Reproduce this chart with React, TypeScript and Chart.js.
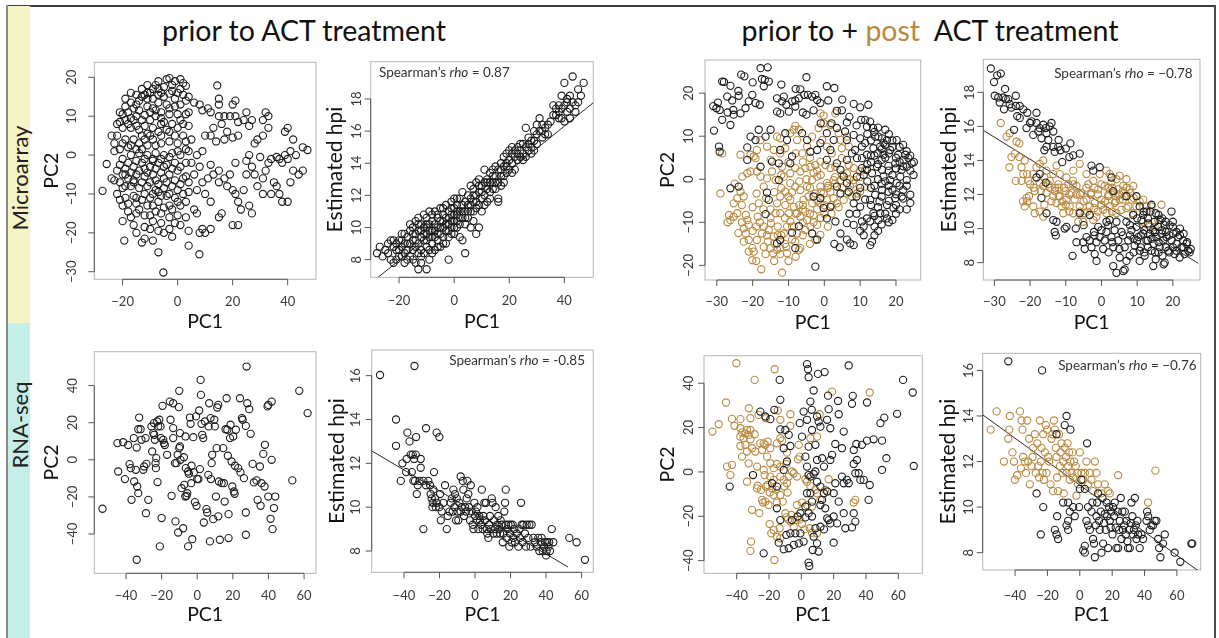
import React, { useEffect, useRef } from 'react';
import { Chart, registerables } from 'chart.js';
Chart.register(...registerables);

type Pt = [number, number];

// ---------- DATA ----------
// Microarray, PCA (prior to ACT)
const maPcPrior: Pt[] = [
[-4,19.5],[-3,19.8],[-1,19],[1,19.5],[2,18.5],[3,17.8],[-2,18],[-8,18],[-9,17],[-10,16],[-12,15.5],[-13,15],[-14,14],[-19,14.5],[-6,16],[-5,15],[-3,15.8],[0,16],[2,15.5],[1,13],[-1,12.5],[-4,13],[-7,13.5],[-9,12],[-11,12.5],[-14,11.5],[-16,12],[-18,11],[-21,11],[-20,10.5],[-17,9.5],[-15,10],[-12,10.3],[-10,9],[-8,10],[-6,11],[-3,10.5],[0,10.5],[3,10.5],[4,11],[1,9],[-2,8],[-5,8.5],[-9,7],[-12,7.5],[-14,6.5],[-17,7],[-20,7],[-22,5],[-24,5],[-19,4],[-16,4],[-13,5],[-10,5],[-7,6],[-4,6.5],[-1,5],[2,5],[5,4],[3,3.5],[0,3],[-3,3.5],[-6,3],[-8,2.5],[-11,2.5],[-14,3],[-18,2],[-21,1.5],[-23,1],[-20,-1],[-17,0],[-14,0.5],[-11,0],[-8,0.5],[-5,0],[-2,0.5],[1,0],[4,1],[-1,-2],[-4,-2.5],[-7,-2],[-10,-3],[-13,-2],[-16,-3],[-19,-3.5],[-22,-4],[-25.8,-2.3],[-27.3,-9.2],[-24,-6],[-21,-7],[-18,-6],[-15,-5],[-12,-5.5],[-9,-5],[-6,-4.5],[-3,-5],[0,-4],[3,-5.5],[4,-7],[1,-7.5],[-2,-8],[-5,-8.5],[-8,-9],[-11,-8],[-14,-8.5],[-17,-8],[-20,-8.5],[-22,-10],[-19,-11],[-16,-10.5],[-13,-11.5],[-10,-11],[-7,-12],[-4,-10.5],[-1,-11],[2,-10],[4,-9.5],[1,-13],[-2,-14],[-5,-13.5],[-8,-14.5],[-11,-13],[-14,-14],[-17,-16],[-20,-17],[-16,-18],[-12,-18.5],[-9,-17],[-6,-17.5],[-3,-16],[0,-15.5],[-1,-17.5],[4,-19.5],[-5,-20],[-9,-22],[-12,-21.5],[-13,-22.5],[-19.4,-22],[-2,-21],[4,-23.3],[-7,-25],[-5.2,-30.2],[7.9,-25.5],
[-15,13],[-11,14.5],[-7,15.5],[-18,8],[-15,7.5],[-11,5.5],[-6,8],[-13,1.5],[-9,-1],[-19,-5],[-16,-6.5],[-12,-3.5],[-8,-6.5],[-5,-6],[-20,-13],[-15,-12.5],[-10,-15.5],[-7,-9.5],
[-21,8.5],[-19,12.5],[-17,13.5],[-15,15.5],[-13,17],[-11,16],[-9,14.5],[-7,17],[-5,17.5],[-2,16.5],[1,17],[3,14],[-1,14.5],[-3,12],[-6,9.5],[-8,11.5],[-10,11],[-13,9],[-16,9],[-19,9],[-22,8],[-23,3],[-20,3],[-17,2.5],[-15,1.5],[-12,4],[-9,4],[-6,5],[-3,6],[0,7],[2,8],[4,7.5],[3,1.5],[0,1],[-3,-0.5],[-6,-1],[-9,-1.5],[-12,-1],[-15,-1.5],[-18,-2],[-21,-2.5],[-23,-6.5],[-20,-5],[-17,-4.5],[-14,-4],[-11,-4.5],[-8,-3.5],[-5,-3],[-2,-3.5],[1,-3],[3,-2],[2,-6],[-1,-6.5],[-4,-7],[-7,-7.5],[-10,-7],[-13,-7],[-16,-7],[-19,-8],[-21,-11.5],[-18,-12.5],[-15,-11],[-12,-10],[-9,-10],[-6,-10.5],[-3,-10],[0,-9],[3,-12],[0,-12],[-3,-13],[-6,-15],[-9,-13],[-12,-15.5],[-15,-15],[-18,-14.5],[-10,-19],[-7,-19.5],[-3,-19],[1,-18],[3,-16],[-17,16],[-7,19],[-11,18],[4,15],[-15,-20],
[6,13.5],[8,13],[9,11.5],[11,12],[12,11],[14.4,17.9],[15,14.5],[15,13],[15,10],[17,10],[16,8],[19,10],[20,13],[21,14],[21,10],[22,8.5],[24,9],[25,11],[26,7.5],[27,9],[22,5],[20,4.5],[18,6],[17,4],[13,7],[12,5],[10,5],[14,3.5],[9,1],[7,0],[8,-3],[12,-2.5],[13,-5],[15,-4],[17,-6],[15,-7],[18,-8],[19,-5],[21,-2],[20,-9],[21,-10],[22,-12],[24,-9],[25,-5],[25,-1.5],[26,0],[27,-3],[28,-5],[29,-8],[30,-0.5],[31,-6],[32,-4],[33,-2],[31,5],[31,9],[32,11],[33,10],[33,7],[29,4],[28,3],[34,-1],[36,-0.5],[37,-1],[38,-2],[39,0],[40,-1],[41,1],[40,7],[39,6],[42,-4],[43,0],[44,-5],[45.5,-4],[47.2,1.3],[45.5,2],[42,4],[36,-8],[37,-10],[38,-12],[40,-12],[41,-7],[34,-10],[35,-7],[31,-10],[26,-13],[27,-15],[23,-14],[22,-18],[20,-18],[15,-16],[16,-15],[12,-12],[10,-10],[7,-15],[9,-19],[10,-20],[8,-20],[12,-19],[6,-14],[7,-9],[9,-7],[11,-6],[6,-5],[5,-2]
];

// Microarray, estimated hpi (prior to ACT)
const maHpiPrior: Pt[] = [
[-28,8.4],[-26,8.2],[-25,8.6],[-24,8.4],[-23,9.2],[-22,8.8],[-22,9.2],[-21,8.0],[-21,8.6],[-20,9.2],[-20,8.2],[-19,9.6],[-19,8.8],[-18,9.0],[-18,8.4],[-18,7.8],[-17,9.4],[-17,8.6],[-16,9.8],[-16,9.0],[-16,8.2],[-15,10.0],[-15,9.2],[-15,8.6],[-14,10.4],[-14,9.6],[-14,8.8],[-14,7.8],[-13,9.8],[-13,9.0],[-13,8.4],[-13,7.4],[-12,10.2],[-12,9.4],[-12,8.6],[-11,10.8],[-11,10.0],[-11,9.2],[-11,8.4],[-10,10.6],[-10,9.6],[-10,8.8],[-10,7.4],[-9,11.0],[-9,10.2],[-9,9.4],[-9,8.6],[-8,10.4],[-8,9.8],[-8,9.0],[-7,11.0],[-7,10.2],[-7,9.4],[-7,8.6],[-6,10.6],[-6,10.0],[-6,9.2],[-5,11.2],[-5,10.4],[-5,9.6],[-5,8.8],[-4,10.8],[-4,10.0],[-4,9.4],[-3,11.4],[-3,10.6],[-3,9.8],[-3,9.0],[-2,11.0],[-2,10.2],[-2,9.4],[-2,8.0],[-1,11.6],[-1,10.8],[-1,10.0],[-1,9.6],[0,11.8],[0,11.2],[0,10.4],[0,9.6],[1,11.4],[1,10.8],[1,10.0],[2,11.8],[2,11.0],[2,10.2],[2,9.4],[3,12.2],[3,11.4],[3,10.6],[3,9.2],[4,11.0],[4,10.2],[4,8.4],[5,12.0],[5,11.4],[5,10.6],[6,12.6],[6,11.8],[6,11.0],[6,10.0],[7,12.4],[7,11.6],[7,10.4],[8,12.8],[8,12.0],[8,11.2],[8,9.6],[9,13.0],[9,12.2],[9,11.4],[9,10.0],[10,12.6],[10,11.8],[10,11.0],[11,13.6],[11,12.8],[11,12.0],[12,13.0],[12,12.4],[12,11.6],[13,13.4],[13,12.8],[13,12.2],[14,13.6],[14,12.8],[15,13.8],[15,13.2],[15,12.4],[16,13.6],[16,12.8],[16,11.8],[16,11.6],[17,14.0],[17,13.2],[18,14.4],[18,13.8],[18,13.2],[19,14.6],[19,14.0],[19,13.4],[20,14.8],[20,14.2],[20,13.6],[21,14.6],[21,14.0],[22,14.8],[22,14.4],[22,13.6],[23,15.0],[23,14.2],[24,14.8],[24,14.4],[25,15.2],[25,14.6],[26,16.2],[26,15.0],[26,14.4],[27,15.6],[27,14.8],[28,15.0],[28,14.6],[29,15.4],[30,15.8],[30,15.2],[31,16.8],[31,16.0],[32,16.4],[32,15.6],[33,16.2],[33,15.8],[34,16.4],[36,17.6],[37,17.0],[37,17.4],[38,17.6],[38,17.2],[39,18.2],[39,17.4],[40,19.0],[40,17.6],[40,16.6],[41,17.2],[41,17.8],[42,17.4],[42,16.8],[43,19.4],[43,17.8],[44,17.6],[45,18.6],[45,17.8],[47,19.0],
[-21,9.0],[-19,9.2],[-17,9.0],[-15,9.6],[-13,10.2],[-12,8.2],[-10,10.2],[-8,9.4],[-6,9.6],[-4,10.4],[-2,10.6],[0,10.8],[1,11.0],[-1,11.2],
[-27,8.8],[-24,9.0],[-23,8.0],[-22,7.8],[-20,8.6],[-19,8.2],[-18,9.6],[-17,8.0],[-16,10.2],[-15,8.0],[-14,9.2],[-13,10.6],[-12,9.8],[-12,7.8],[-11,9.6],[-10,10.0],[-10,9.2],[-9,9.8],[-9,8.0],[-8,10.8],[-8,8.4],[-7,9.8],[-6,10.8],[-6,8.8],[-5,10.0],[-4,9.0],[-4,11.2],[-3,10.2],[-2,9.8],[-1,10.4],[0,10.0],[1,10.4],[1,11.8],[2,10.6],[3,11.0],[4,11.6],[4,10.6],[5,11.0],[6,11.4],[7,11.0],[7,12.0],[8,11.6],[9,12.6],[10,12.2],[11,11.4],[12,12.8],[13,11.8],[14,12.4],[14,13.2],[15,12.8],[17,13.6],[17,12.6],[18,12.8],[19,13.8],[21,13.4],[21,15.0],[23,14.6],[24,15.2],[25,14.2],[27,15.2],[28,15.4],[29,14.8],[29,16.0],[30,16.4],[32,16.0],[34,15.8],[35,16.6],[36,17.0],[38,16.8],[39,16.8],[41,18.0],[42,18.2],[44,17.2],[46,18.2]
];

// Microarray, PCA (prior = black, post = brown)
const maPcPrior2: Pt[] = [
[-30.8,11.3],[-28.5,22.7],[-28,22.6],[-29.7,17.8],[-30.1,16.5],[-29.2,16.1],[-28.5,13.8],[-27.1,19.2],[-26.2,21.7],[-25.7,18.3],[-25.4,16.1],[-25.3,15],[-26.2,12.6],[-23.9,19.4],[-23.4,15.3],[-23.2,24.3],[-22.3,23.9],[-22,16.5],[-21.1,18.1],[-20.1,19.6],[-19.2,17.7],[-18,17.3],[-17.8,25.8],[-17.4,23.3],[-16.9,21.6],[-16.6,23.1],[-15.8,26],[-15.5,22.7],[-15,11.5],[-16.4,9.9],[-18.3,11.5],[-19.2,9.1],[-20.6,9.9],[-21.5,7.4],[-29.4,7.6],[-29.2,6.4],[-21.5,4.5],[-17.8,2.9],[-26.2,-2.1],[-23.9,-1.7],[-16,-3.1],[-15.5,-4.8],[-16.4,-8.1],[-14.6,4.1],[-12.7,3.7],[-12.3,6.8],[-12.7,-0.2],[-10.9,10.7],[-10.4,9.1],[-9.5,3.7],[-9,5.3],[-13.2,15.7],[-12.3,15.3],[-13.2,18.8],[-11.8,18.1],[-11.3,19.2],[-10.6,17.3],[-9.9,15.7],[-9,18.1],[-8.1,18.3],[-7.1,18.8],[-8.1,16.9],[-6.7,20.9],[-5.6,19.6],[-5,23.7],[-4.6,19.6],[-3.4,19.2],[-2.5,19.6],[-2,18.4],[-1.1,17.7],[-3,16],[0.7,21.6],[2.8,21.2],[1.1,18.3],[3.5,15.9],[4.9,16],[6.3,13.2],[8.2,17.5],[10,16.7],[12.3,17.3],[10.3,13.8],[11.4,13.8],[11.9,12.2],[12.8,13.4],[13.6,11.9],[14.2,9.9],[15.1,9.9],[16.1,9.5],[17.5,9.1],[16.5,8.4],[15.6,7.6],[13.7,7.2],[14.9,6],[16.5,5.7],[18.4,6.8],[20.2,9.1],[20.6,5.7],[22.6,5.7],[22.1,4.5],[23.5,4.9],[24.4,3.7],[24.9,1],[23,2.9],[21.6,2.2],[19.8,3.7],[17.9,3.1],[16.1,2.2],[14.7,2.9],[13.3,1.4],[11.9,2.2],[10.5,2.6],[9.1,0.6],[16.5,0.6],[18.4,-0.2],[20.2,-0.9],[21.2,0.6],[23,-0.2],[24,-3.6],[21.6,-4],[19.8,-4.4],[17.9,-2.9],[16.1,-2.5],[14.2,-3.6],[12.8,-4.8],[11.4,-4.7],[10,-6.4],[8.2,-5.6],[15.4,-5.2],[17.5,-6],[19.3,-6.7],[15.6,-7.9],[13.7,-7.9],[11.9,-9.1],[10.5,-9.8],[12.8,-9.8],[15.1,-9.5],[17.5,-9.1],[8.2,-10.6],[6.3,-10.2],[3.1,-9.8],[0.7,-9.1],[4.5,-12.6],[6.3,-14],[7.2,-14.9],[8.2,-15.3],[13.3,-14.5],[12.8,-15.3],[4.3,-15.8],[2.8,-15],[-2.5,-20.3],[-2,-14],[-3.4,-12.6],[-7.1,-10.9],[-9,-12.4],[-8.1,-16],[-12.3,-14.1],[-13.2,-14.9],[-0.2,-6.7],[1.7,-6.4],[-1.1,-4.4],[-3,-4],[4.5,-3.3],[3.5,-1.7],[6.3,-0.9],[6.8,-2.9],[5.4,0.6],[4.5,2.2],[3.5,3.7],[6.3,4.5],[7.7,6],[8.6,6.8],[9.1,4.9],[1.7,6.8],[0.7,4.5],[-2,6.8],[-1.1,8.4],[-3.9,6.4],[-4.8,9.1],[-6.2,10.7],[0.7,10.7],[2.6,9.1],[3.5,11.9],[5.8,11.1],[6.3,9.1],[8.2,10.3],[10,9.5],[11.4,8.4],[10.5,7.6],[11.9,5.7],[10.5,4.9],
[13,4],[14,5.5],[15,3.5],[16,4.5],[17,5],[18,2],[19,1],[20,2.5],[21,4],[22,3],[18,-1.5],[19,-2.5],[20,-3.5],[21,-1.5],[22,-2.5],[16,-1],[17,-0.5],[15,0],[14,-1.5],[13,-2],[12,-0.5],[16,7],[17,8],[18,6],[19,7.5],[20,5],[15,-6.5],[16,-4],[18,-5],[20,-6],[14,-8.5],[13,-6],[17,-8],[21,-7],[9,-8],[11,-11],[7,-8],[14,-11],[18,-10],
[12,10.5],[13,9],[14,11],[15,12],[17,11.5],[18,10.5],[19,9],[21,7.5],[22,8],[23,6.5],[24,5.5],[25,4],[24,2],[23,-1.5],[22,-4.5],[24,-5.5],[23,-7],[20,-8],[19,-9.5],[16,-10.5],[15,-12],[14,-13],[11,-13],[10,-12],[9,-4],[10,-2],[11,1],[12,3.5],[13,5.5],[-5,15],[-8,21],[-12,22],[-20,22.5],[-24,20.5],[-27,15.5],[-31,17],[-6,15.5],[-1,13],[2,13],[5,18.5],[7,14.5],[9,12.5]
];
const maPcPost: Pt[] = [
[-28.5,6],[-29,-3.3],[-26.6,-8.3],[-25.3,-8.7],[-26.2,-9.5],[-24.3,-7.9],[-23.4,5.7],[-23.4,-2.9],[-22.5,-4],[-21.5,1.4],[-20.6,1.8],[-21.9,-8.3],[-21.5,-9.5],[-21.1,-10.6],[-22.5,-11.4],[-21.9,-12.6],[-21.1,-14.1],[-22.5,-14.5],[-20.1,-16],[-21.1,-16.8],[-19.7,-16.8],[-20.1,-18.8],[-17.6,-20.9],[-18.8,-14.1],[-18.6,-8.7],[-18.3,-5.6],[-18.9,-3.3],[-18.8,1.8],[-19.2,4.9],[-17.8,0.6],[-16.9,-1.7],[-16.2,-4.4],[-16.9,-11],[-17.4,-12.6],[-16.9,-15.7],[-16.4,-17.4],[-15.8,-14.5],[-15.5,-11.8],[-14.9,-10.2],[-14.1,-13.3],[-13.9,-15],[-14.3,-17.2],[-12.3,-17.4],[-11.8,-21.7],[-13.2,-16.4],[-12.3,-16],[-10.6,-15.7],[-10.4,-17.2],[-11.3,-12.6],[-10.4,-11],[-9.5,-9.8],[-8.5,-11],[-7.6,-12.6],[-7.1,-16.4],[-6.7,-16],[-8.1,-14.5],[-9.9,-7.9],[-10.9,-6],[-9.5,-4.8],[-8.5,-6.4],[-7.6,-7.9],[-6.7,-8.7],[-5.3,-7.5],[-4.8,-9.5],[-3.9,-11],[-3,-8.3],[-2,-10.6],[-2.5,-14.1],[-1.1,-12.9],[-5.3,-11.8],[-5.8,-4.8],[-4.4,-4],[-3.4,-5.6],[-2.5,-3.3],[-1.1,-5.6],[-0.2,-3.3],[0.7,-4.8],[1.7,-2.9],[2.6,-4.4],[3.5,-5.6],[5.4,-4.8],[6.3,-3.3],[7.7,-4],[7.2,-1.7],[9.1,-3.3],[10,-2.9],[11.4,-1.7],[8.2,-0.2],[6.3,1.4],[4.5,-0.2],[2.6,-0.2],[0.7,-0.9],[-1.1,-1.7],[-2,0.6],[-3.4,-0.2],[-4.8,-1.7],[-6.7,-2.5],[-8.1,-1.7],[-9.5,-0.9],[-10.9,-2.9],[-12.3,-4],[-13.2,-5.6],[-13.6,-7.9],[-12.3,-7.9],[-9.5,1.4],[-8.1,2.6],[-6.7,1.8],[-5.3,2.6],[-3.9,2.9],[-2.5,3.3],[-1.1,4.1],[0.3,3.3],[1.7,2.6],[3.1,2.9],[4.9,4.9],[6.8,3.3],[8.2,2.6],[10,1.8],[11.4,2.2],[2.1,6],[0.7,7.6],[-0.6,9.1],[-1.6,11.9],[-0.2,13],[1.7,12.6],[3.1,15.3],[-1.1,15.3],[-0.2,14.8],[4,10.7],[4.5,9.1],[6.3,9.9],[6.8,7.6],[4.9,7.2],[-3.4,9.9],[-4.8,7.6],[-6.2,6],[-7.6,9.1],[-8.5,11.5],[-8.1,12.4],[-7.1,11.5],[-9.5,10.7],[-10.9,7.2],[-12.3,6],[-13.2,9.9],[-14.1,6.8],[-15,4.5],[-14.6,1.8],[-13.6,-0.2],[-16,0.2],[-11.8,2.9],[-11.3,0.6],[-12.3,9.5],[-16,7.6],[-18.8,6.8],[-19.7,5.3],[-20.6,5.7],[-17.8,9.1],[-22.9,0.6],[-24.3,-4.4],[-25.3,-5.6],
[-7,-6],[-6,-10],[-4,-2],[-2,-7],[0,-6],[1,-1.5],[3,0.5],[5,-2],[-1,1],[-3,1.5],[-5,0],[-7,-0.5],[-9,-3],[-11,-9],[-13,-11],[-15,-7],[-12,-13],[-14,-19],[-9,-14],[-6,-13],[-4,-15],[-1,-9],[2,-8],[8,-1],[10,0.5],[-20,-6.5],[-23,-10],[-19,-11],[-24,-12.5],
[-8,-8],[-6,-6],[-4,-8],[-2,-5],[0,-8],[2,-6],[4,-6.5],[-10,-4],[-12,-2],[-14,-3],[-15,-9],[-17,-7],[-18,-10],[-20,-12],[-19,-19],[-15,-16],[-10,-19],[-8,-18],[-6,-7],[-3,-10],[1,-11],[-1,-3],[1,-2],[3,-1],[5,1],[7,0],[-2,2],[-4,5],[-6,4],[-8,6],[-10,4],[-12,1],[-9,-11],[-11,-15],[-13,-13],[-16,-13],[-23,-6],[-25,-1],[-27,-10]
];

// Microarray, estimated hpi (prior = black, post = brown)
const maHpiPrior2: Pt[] = [
[-31,19.4],[-29.2,19.0],[-28.2,19.1],[-30.1,18.6],[-29.9,17.8],[-28.9,17.7],[-28.5,17.4],[-27.5,17.7],[-26.8,17.6],[-26.1,17.6],[-25.7,17.3],[-27.3,17.0],[-25.2,17.1],[-24,17.2],[-22.9,17.2],[-21.9,17.0],[-23.6,16.6],[-22.9,16.5],[-20.8,16.8],[-18.2,16.8],[-24.5,15.8],[-21,15.9],[-19.6,16.3],[-19.1,15.5],[-18.2,16.2],[-17.7,15.7],[-17.3,15.9],[-16.8,15.3],[-16.3,16.1],[-15.6,15.9],[-15.4,15.6],[-14.9,15.2],[-14.5,16.0],[-13.5,15.7],[-15.4,14.8],[-13.5,14.8],[-13.1,14.5],[-12.1,14.8],[-11.5,14.6],[-10,14.7],[-8.7,15.0],[-7.9,14.3],[-6.1,14.4],[-17.3,13.2],[-18.2,13.0],[-15.6,12.7],[-2.3,13.4],[-2.8,13.7],[-0.5,13.6],[2.8,13.0],[-16.8,11.8],[-15.4,10.9],[-12.6,10.4],[-13.1,9.8],[-12.8,9.6],[-10.3,10.0],[-7.2,10.0],[-8.1,8.4],[-7,9.2],[-5.1,9.2],[-4.2,9.5],[-3.3,9.3],[-2.8,8.9],[-2.1,9.8],[-1.4,9.2],[-0.9,10.1],[-0.5,9.5],[0.5,8.8],[0.9,9.3],[1.4,9.8],[1.9,10.2],[2.3,10.5],[2.8,9.5],[3.3,8.9],[3.7,9.9],[4.2,10.4],[4.7,9.3],[5.1,8.3],[5.6,9.8],[6.1,7.5],[6.5,7.6],[6.5,8.9],[7,10.4],[7.5,9.3],[7.9,8.4],[8.4,9.9],[8.9,10.8],[9.3,9.0],[9.8,10.1],[9.8,11.9],[10.3,9.5],[10.7,8.7],[10.7,11.3],[11.2,10.5],[11.7,9.7],[11.8,11.0],[12.1,8.4],[12.6,9.3],[12.6,11.0],[13.1,10.3],[13.5,9.7],[13.7,11.0],[14,8.7],[14.5,9.9],[14.6,9.1],[14.9,10.4],[15.2,8.2],[15.4,9.5],[15.9,10.1],[16.3,8.9],[16.5,10.5],[16.8,9.7],[17.1,8.4],[17.3,9.3],[17.4,7.9],[17.7,10.2],[18.2,9.5],[18.7,8.7],[19.1,10.2],[19.6,9.3],[20.1,9.7],[20.5,8.5],[21,9.1],[21.5,9.5],[21.9,8.3],[22.4,8.9],[22.9,9.3],[23.3,8.5],[23.8,9.1],[24.3,8.7],[24.7,8.6],[15.2,10.9],[1.4,10.4],[11.7,10.8],[19.6,11.0],[7,11.9],[3.3,12.2],[-3.3,10.8],[-6.1,10.9],[-9.8,10.1],[-13.5,10.5],[-4.7,8.8],[-1.9,8.5],[-1.4,8.1],[3.3,7.8],[4.2,7.4],[7,8.1],[10.7,8.1],[14.5,7.8],[17.7,8.0],
[12,9.9],[13,8.9],[14,9.4],[15,8.6],[16,9.2],[17,9.9],[18,8.9],[19,9.6],[20,8.9],[21,9.8],[10,9.3],[9,8.6],[8,9.6],[11,8.9],[13,9.3],[16,8.6],[18,10.4],[20,10.1],[22,9.6],[23,8.9],
[13,10.6],[15,9.8],[16,10.8],[18,9.8],[19,8.6],[20,10.4],[21,8.7],[22,10.0],[23,9.7],[24,9.2],[25,8.8],[12,8.6],[11,9.6],[9,9.4],[8,10.2],[6,9.6],[5,8.8],[3,9.2],[2,8.6],[0,9.9],[-2,9.6],[-5,10.2],[-24,17.8],[-27,18.2],[-20,16.2],[-16,14.6],[-12,15.2],[-9,14.2],[-11,13.9],[-14,16.2],[14,11.4],[17,10.6],[10,10.6]
];
const maHpiPost: Pt[] = [
[-28.2,16.2],[-26.6,15.4],[-25.7,15.6],[-23.8,15.1],[-23,15.0],[-25.2,14.2],[-25.8,13.6],[-24.3,14.4],[-22.4,13.6],[-21.5,14.0],[-21.9,13.2],[-20.8,13.2],[-20.5,12.8],[-22.4,12.8],[-19.1,13.2],[-18.2,13.6],[-17.3,13.8],[-16.3,14.0],[-17.3,12.7],[-16.3,12.5],[-18.7,12.2],[-20.3,11.9],[-21,11.8],[-21.5,11.3],[-20.8,11.6],[-19.1,11.3],[-18.7,10.9],[-17.3,11.0],[-16.3,10.7],[-15.4,12.1],[-14.5,12.4],[-13.5,11.9],[-13.1,12.2],[-12.6,11.5],[-12.1,12.6],[-11.7,11.9],[-11.2,11.3],[-10.7,10.9],[-10.5,12.4],[-9.8,11.7],[-9.3,12.6],[-8.9,11.3],[-8.4,12.1],[-7.9,10.9],[-7.5,11.7],[-7,12.5],[-6.5,10.4],[-6.1,11.3],[-5.6,12.1],[-5.1,10.4],[-4.7,10.9],[-4.2,11.7],[-3.7,12.6],[-3.3,11.3],[-2.8,12.1],[-2.3,12.8],[-1.9,11.5],[-1.4,10.7],[-0.9,12.3],[-0.5,13.2],[0,11.7],[0.5,11.1],[0.9,12.5],[1.4,13.4],[1.9,11.9],[2.3,11.3],[2.8,12.7],[3.3,12.1],[3.7,11.5],[4.2,12.9],[4.7,12.3],[5.1,11.7],[5.6,11.1],[6.1,12.5],[6.5,11.9],[7,12.9],[7.5,11.3],[7.9,12.3],[8.4,11.7],[8.9,12.5],[9.8,11.3],[10.7,11.6],[11.7,11.7],[12.6,11.3],[14,11.3],[15.9,10.5],[16.8,11.4],[7,11.2],[-4.2,13.2],[-6.1,13.8],[-7.9,13.4],[-9.8,13.0],[-11.7,13.2],[-12.6,13.7],[-13.5,13.2],[-14.5,12.8],[-15.4,13.4],[-4.2,12.4],[-2.3,10.5],[1.4,10.9],[4.2,10.9],[8.9,10.9],[11.7,10.4],[13.5,10.1],[14.9,10.1],[5.1,13.1],[2.3,13.2],
[-10,12.2],[-8,12.8],[-6,12.0],[-4,11.0],[-2,12.4],[0,12.6],[2,12.0],[4,11.6],[6,12.2],[-12,12.4],[-14,11.6],[-16,11.4],[-9,11.0],[-5,11.6],[-1,11.0],[3,12.4],
[-3,12.0],[-1,12.0],[1,11.6],[3,11.0],[5,12.0],[7,12.4],[9,11.8],[-7,12.0],[-9,12.0],[-11,11.6],[-13,12.4],[-15,12.6],[-17,12.2],[-19,12.4],[-23,14.2],[-8,12.6],[-6,11.0],[-2,11.2],[0,11.4],[2,12.4],[4,11.9],[6,11.7],[8,12.1],[-10,11.4],[-12,11.9],[-16,13.0],[-20,12.6],[-22,11.6],[-24,12.8]
];

// RNA-seq, PCA (prior to ACT)
const rnaPcPrior: Pt[] = [
[-53.2,-26.4],[-44.4,-6.3],[-44.8,9],[-41.6,9.5],[-40.6,-10.4],[-38.8,8],[-38,-2.3],[-37.3,-4.5],[-36.9,-21.6],[-35.6,11.7],[-35.4,-11.7],[-34.5,-5.4],[-34,6.6],[-34,-53.9],[-33.7,-14.4],[-33.1,-18],[-33.1,16.5],[-32.6,22.8],[-31.8,16.5],[-31.3,10.8],[-30.3,-5.4],[-29.8,-3.6],[-29,11.7],[-28.8,-28.8],[-28.5,-2.2],[-27.5,-21.6],[-25.7,18],[-25.3,4.5],[-24.7,14.4],[-24.3,19.8],[-24.2,13.5],[-23.8,10.8],[-23.4,-1.8],[-23.2,-4.5],[-23,0.9],[-22.5,20.7],[-22.3,-12],[-21.9,18],[-21.3,21.6],[-21,-46.7],[-20.6,18],[-20.4,11.7],[-20,-31.4],[-19.5,29.1],[-19.1,10.8],[-18.7,9],[-18.2,8],[-16.9,2.7],[-15.4,31.4],[-15,21.6],[-14.4,-19.4],[-13.5,30.5],[-13.5,17.1],[-13.5,11.7],[-12.5,-1.8],[-12.2,-33.2],[-11.6,-1.8],[-11,2.7],[-10.7,-39.2],[-10.3,28.4],[-10.1,37.2],[-10.1,6.3],[-9.7,14.4],[-9.7,7.2],[-9.4,0],[-8.8,-15.3],[-7.9,-36.9],[-7.5,1.4],[-7.3,-13.5],[-6.7,-19.8],[-6.6,12.6],[-6.4,-4.5],[-6,-19.4],[-5.6,-18],[-5.1,-46.7],[-5.1,-6.3],[-4.7,-7.5],[-4.1,22.8],[-3.7,19.4],[-3.4,-12.6],[-3.2,-3.2],[-2.8,-42.8],[-2.2,12.2],[-1.9,-6.8],[-1.3,-22.8],[-0.7,23.4],[-0.4,-24.8],[0,-10.4],[0.7,-10.4],[1.1,26.6],[1.5,-5],[1.9,43.1],[2.1,35],[2.4,19.4],[2.8,13.5],[3.4,11.7],[3.7,-33.8],[4.3,20.7],[5.2,-26.6],[5.6,-28.4],[6.2,-8.1],[6.4,18],[6.7,30.5],[7.1,-44],[7.5,22.5],[7.7,-10.4],[8.1,-1.8],[8.4,2.7],[9,-32],[9.6,21.6],[9.9,18],[10.5,-19.8],[10.9,6.3],[11.2,28.2],[11.8,-30.5],[11.8,29.6],[12.2,-11.7],[12.7,-43.1],[13.7,-12.6],[14.6,6.3],[15,-12.6],[15.4,-22.5],[15.9,16.5],[16.5,33.2],[16.9,16.2],[17.2,2.2],[17.6,-29.3],[17.6,-42.2],[18.4,11.7],[18.7,18.9],[19.3,-0.9],[19.7,-14.4],[20.2,12.6],[20.6,-17.1],[21,-18.3],[21.2,-3.2],[21.7,16.2],[23,-4.5],[24,33.2],[24.3,-6.8],[25.1,22.5],[25.5,21.6],[26.2,-9.9],[27.3,18.3],[27.3,-28.4],[27.3,-40.4],[27.7,50.3],[28.1,30.5],[29.2,27.3],[30,14],[31.1,-2.2],[31.8,-12.2],[33.3,-11.1],[33.9,-21.6],[35.2,-3.6],[35.6,-24.8],[36.1,-12.6],[37.1,3.2],[37.8,-14.4],[38,8.1],[39.5,28.8],[39.9,29.6],[39.9,-19.8],[41.2,-31.8],[41.8,31.4],[41.8,0],[42.3,-37.4],[43.1,-26],[43.8,-19.8],[53.4,-11.1],[57.3,37.2],[62,25.2]
];

// RNA-seq, estimated hpi (prior to ACT)
const rnaHpiPrior: Pt[] = [
[-53.5,16.03],[-34.1,16.44],[-44.5,14.0],[-44.5,12.8],[-40.9,12.0],[-41.8,11.2],[-38.8,11.6],[-38.1,13.4],[-36.9,13.0],[-38.5,12.2],[-36.2,12.4],[-35.6,11.6],[-35.1,12.4],[-34.3,12.2],[-33.4,12.4],[-33.2,13.2],[-34.7,11.2],[-33.8,11.2],[-32.8,10.6],[-32.3,11.0],[-31.3,11.2],[-30.6,12.2],[-30.6,11.8],[-29.1,9.0],[-29.1,11.2],[-27.6,13.6],[-27.6,11.0],[-26.3,11.2],[-25.3,11.0],[-25.0,10.6],[-24.4,10.4],[-24.0,10.0],[-23.8,10.2],[-23.5,10.8],[-23.1,11.6],[-22.5,10.4],[-22.1,10.0],[-21.6,13.4],[-21.6,10.2],[-20.1,13.2],[-20.1,10.0],[-19.7,10.6],[-19.3,9.4],[-18.8,9.8],[-17.8,10.2],[-16.9,11.0],[-15.9,9.0],[-15.4,9.6],[-14.4,9.8],[-13.7,10.2],[-13.1,10.4],[-12.6,9.8],[-12.2,10.8],[-11.6,10.0],[-11.3,10.6],[-10.7,9.4],[-10.3,10.4],[-9.9,9.8],[-9.4,9.4],[-8.8,10.2],[-8.1,9.8],[-8.1,11.4],[-7.5,10.0],[-6.9,11.2],[-6.6,10.8],[-6.2,9.6],[-5.6,10.0],[-5.1,9.8],[-4.7,10.4],[-4.3,11.2],[-3.8,10.6],[-3.4,10.0],[-2.8,9.4],[-2.4,11.0],[-1.9,9.8],[-1.3,9.2],[-0.9,9.0],[-0.4,10.2],[0,9.6],[0.6,9.8],[0.9,9.4],[1.3,10.0],[1.9,9.0],[2.4,9.6],[2.8,9.4],[3.4,9.2],[3.8,10.8],[4.3,9.0],[4.7,9.6],[5.3,10.2],[5.6,9.4],[6.2,10.2],[6.6,9.0],[6.9,8.8],[7.5,8.6],[7.9,9.2],[8.4,9.6],[8.8,9.0],[9.4,10.4],[9.8,10.2],[10.3,8.8],[10.7,9.4],[11.3,9.0],[11.6,10.0],[12.2,8.8],[12.6,9.2],[13.1,9.6],[13.7,9.0],[14.1,8.8],[14.4,9.4],[15.0,9.2],[15.6,8.4],[15.9,8.8],[16.5,9.8],[16.9,10.2],[17.3,10.8],[17.4,9.2],[17.8,8.6],[18.2,9.0],[18.8,9.2],[19.3,8.2],[19.7,8.8],[20.1,9.2],[20.6,8.4],[21.2,9.2],[21.6,8.6],[22.1,9.0],[22.5,8.4],[23.5,8.8],[24.4,8.2],[25.0,9.0],[25.3,8.6],[25.9,10.2],[26.3,9.2],[26.8,8.4],[27.2,9.2],[28.1,8.8],[28.7,8.2],[29.1,9.2],[30.0,8.6],[30.6,9.2],[31.3,8.2],[31.9,9.2],[32.8,8.6],[33.8,8.4],[34.7,8.2],[35.6,8.6],[36.2,8.0],[37.0,8.4],[37.5,8.6],[38.1,8.0],[38.8,8.2],[39.4,8.4],[40.0,7.8],[40.3,8.0],[40.7,8.4],[41.3,8.2],[41.8,8.4],[42.2,8.0],[43.2,9.0],[44.1,8.4],[53.1,8.6],[57.2,8.4],[61.9,7.6]
];

// RNA-seq, PCA (prior = black, post = brown)
const rnaPcPrior2: Pt[] = [
[3.5,48.6],[4.1,46.3],[4.5,42.7],[10.3,44.2],[14.4,45],[29.3,48],[-13.4,41.5],[7.6,36.7],[16.5,34.4],[22.7,32],[31.8,34.3],[31.3,30.7],[40.6,31.3],[62.9,41.5],[68.9,35.8],[59.2,26.2],[51.3,24.5],[48.9,22],[44.7,14.7],[40.6,14.1],[49.9,14.1],[52.6,6.2],[69.5,2.7],[37.5,12.2],[34,12.6],[32.4,9.9],[34.4,5.4],[32.4,3.6],[33.4,-0.6],[35.5,-0.6],[36.5,-3.6],[38.6,-3.6],[42.3,-5.9],[41.6,-12.6],[49.9,0.9],[32.4,-18.6],[33.4,-22.4],[31.3,-25],[26.2,-18.6],[23.1,-13.4],[26.2,-5.1],[28.2,-3.6],[29.3,-5.1],[25.1,-2.1],[21,-5.1],[20,-9.6],[17.9,5.4],[19,7.7],[21,12.6],[25.1,10.7],[26.2,18.2],[23.1,26],[16.9,28.3],[15.9,23.5],[17.9,19.7],[11.8,20.4],[9.7,25],[6.4,28],[5.6,31.7],[10.7,22.7],[6.6,18.9],[4.5,11.4],[8.7,12.2],[9.7,5.4],[12.8,6.2],[14,2.4],[7.6,-0.9],[8.7,0.2],[5.6,-2.1],[9.7,-4.4],[11.8,-6.6],[14,-9.6],[16,-8.8],[12.8,-12.6],[11.8,-14.9],[14.8,-16.4],[16,-20.9],[16.9,-21.7],[17.9,-23.2],[20,-20.1],[22.1,-23.2],[27.2,-25.4],[8.7,-25.4],[11.8,-24.7],[14,-25.9],[7.6,-29.2],[9.7,-32.2],[7,-35.2],[10.7,-35.9],[20,-31.9],[4.5,-40.9],[4.9,-42.4],[1.4,-31.4],[-1.6,-32.2],[-4.7,-32.9],[-7.8,-34.4],[-10.9,-34.9],[-14,-31.9],[-23.3,-36.7],[-9.3,-28.4],[-6.8,-27.7],[-3.7,-27.7],[-0.6,-27.7],[-5.8,-21.7],[-13,-21.7],[-15.1,-16.4],[-15.1,-6.6],[-44.3,-6.6],[-29.9,-1.4],[-18.1,-5.1],[-10.9,0.9],[-8.9,4.7],[-10.9,10.7],[-6.8,11.7],[-13,19.2],[-9.9,18.9],[-7.8,16.7],[-1,22],[-13,32.5],[-25.4,27.2],[-22.3,25],[-19.2,23.8],[-16.7,28],[1.4,27.2],[3.5,23.5],[0.4,15.9],[2.5,6.9],[3.5,2.4],[4.5,-1.4],[3.5,-9.6],[5.6,-9.6],[6.6,-13.4],[2.5,-15.6],[-0.6,-18.6],[-2.3,-20.1],[2.5,-20.5],[4.5,-18.6],[6.6,-20.1]
];
const rnaPcPost: Pt[] = [
[-40.2,49],[-16.5,46.3],[-28.9,41.5],[-46.6,31.3],[-55,18.2],[-51.1,21.5],[-42.9,23.9],[-41.4,20.8],[-37.7,23.8],[-32.5,28.7],[-31.5,24.2],[-26.4,25.7],[-21.9,24.2],[-14.6,27.7],[-13,23.5],[-6.8,26],[-6.8,20.8],[-37.7,19.7],[-33.6,18.9],[-32.6,16.7],[-35.7,15.2],[-31.5,14.7],[-37.7,11.7],[-34.6,12.2],[-36.7,6.9],[-33.6,9.2],[-30.5,10.7],[-25.4,12.9],[-24.3,9.9],[-20.8,13.7],[-19.2,10.7],[-15.1,12.9],[-13,15.2],[-12,14.1],[-8.9,8.7],[-1.6,12.2],[5.6,15.2],[9.7,15.9],[11.3,26],[19,36.2],[42.3,35.8],[-42.9,3.2],[-43.9,-1.4],[-32.6,3.9],[-33.6,-4.4],[-27.4,2.4],[-27,-6.2],[-23.3,0.9],[-22.7,-1.4],[-21.9,-6.6],[-15.1,3.6],[-13,2.4],[-9.3,3.6],[-8.9,-5.1],[-8.5,-9.3],[-5.8,0.2],[-4.7,-0.6],[-2.7,-2.1],[-2.1,5.7],[-1,6.9],[2.5,-3.3],[3.5,-4.4],[5.6,-6.3],[8.7,-8.1],[9.7,-9.6],[11.8,-12.6],[14.8,-8.1],[16.9,-3.3],[32.4,-13.8],[33.4,-12.6],[-24.3,-12.6],[-22.3,-13.4],[-23.7,-13.8],[-30.5,-17.1],[-26,-18.6],[-20.2,-14.9],[-19.6,-23.5],[-18.6,-27.7],[-17.1,-26.2],[-15.1,-29.2],[-13.4,-25.4],[-13,-29.9],[-9.9,-18.6],[-9.3,-20.5],[-8.2,-21.4],[-6.8,-22.4],[-6.2,-19.4],[-4.7,-24.7],[-3.7,-21.7],[-1,-21.4],[0.4,-23.5],[1.9,-25.9],[5.2,-25.4],[6.6,-27.4],[9.7,-27.7],[-31.1,-31.4],[-31.5,-35.6],[-16.7,-39.7],[-27.4,-7.4],[-24.9,-8.1],[-20.8,-5.9],[-18.1,-7.4],[-15.5,-8.1],[-13,-10.4],[-10.5,-6.6],[-17.1,-10.4],[-19.6,-9.3],[-15.1,-13.8],[-11.5,-13.4],[-2.7,-14.9],[0.4,-13.8],[3.5,-14.9],[6.6,-15.6],[-46,2.4],[-37.7,15.9],[-36.7,17.7],[-34.6,17.4],[-31.5,18.9],[-28.9,17],[-23.3,12.9],[-22.3,12.2],[-28.5,9.2],[-21.2,6.9],[-19.2,3.9],[-17.1,1.7],[-19.2,-2.1],[-17.1,-3.6],[-13,-2.1],[-10.9,-3.6],[-7.8,-2.1]
];

// RNA-seq, estimated hpi (prior = black, post = brown)
const rnaHpiPrior2: Pt[] = [
[-44.2,16.4],[-23.3,16.0],[-8.2,14.0],[-9.3,13.6],[-5.8,13.4],[-14.4,13.2],[4.5,12.8],[-26.7,10.6],[-22.6,10.0],[-24.1,8.8],[-15.4,9.0],[-14.4,8.8],[-13.4,8.6],[-14,9.6],[-10.3,10.2],[-7.2,10.2],[-6.2,9.8],[-7.2,9.4],[-8.2,9.2],[-7.2,9.0],[-4.1,10.0],[-3.1,9.6],[-0.4,10.0],[0,10.8],[1,11.2],[3.1,10.8],[2.1,8.1],[3.1,8.3],[3.1,8.0],[4.1,9.4],[5.1,9.2],[6.2,9.0],[5.1,10.0],[7.2,9.8],[7.8,10.2],[8.2,8.6],[8.8,8.4],[9.3,7.8],[9.9,9.2],[10.3,9.6],[10.7,10.2],[11.3,10.6],[11.9,9.4],[12.3,9.0],[13,9.8],[13.4,8.0],[14,10.4],[14.4,8.4],[15,9.3],[15.4,9.7],[16,9.0],[16.5,10.2],[16.9,9.6],[17.5,8.2],[18.1,10.0],[18.5,9.4],[19.1,9.1],[19.5,9.8],[20.2,8.8],[20.6,10.0],[21.2,9.6],[21.6,10.2],[22.2,9.1],[22.6,8.2],[23.3,9.8],[23.7,8.2],[24.3,9.0],[24.7,9.4],[25.3,10.4],[25.7,8.6],[26.3,9.8],[26.7,9.0],[27.4,9.2],[27.8,9.8],[28.4,8.8],[28.8,9.4],[29.4,8.5],[29.8,8.2],[30.5,9.0],[30.9,8.2],[31.5,9.3],[31.9,10.2],[32.5,9.6],[32.9,8.8],[33.5,9.0],[34,10.4],[34.6,9.2],[35,8.6],[35.6,9.4],[36,8.8],[37,8.2],[38.1,8.8],[39.1,8.6],[41.2,9.4],[41.6,9.8],[42.2,9.6],[43.2,9.0],[44.2,9.2],[45.3,9.2],[46.3,9.4],[47.3,9.4],[48.4,8.6],[49,8.2],[49.8,7.8],[51.4,8.4],[52.5,8.8],[58.6,8.0],[62.1,7.6],[68.9,8.4],[69.5,8.4]
];
const rnaHpiPost: Pt[] = [
[-55.1,13.4],[-51.4,14.2],[-46.9,12.0],[-43.2,14.0],[-43.6,13.4],[-44.2,13.0],[-41.6,12.4],[-40.7,12.0],[-40.1,11.2],[-38.7,11.4],[-37,14.2],[-36.4,11.7],[-36,13.8],[-35.4,13.4],[-35,12.2],[-34,12.0],[-33.3,11.5],[-32.5,13.8],[-31.9,12.0],[-31.3,13.0],[-30.9,11.0],[-29.8,11.8],[-29.2,12.2],[-28.8,12.6],[-27.8,13.2],[-27.2,11.5],[-26.3,12.8],[-25.7,11.8],[-25.1,11.3],[-24.7,13.8],[-24.1,12.0],[-23.7,12.6],[-23,11.5],[-22.6,13.2],[-22.2,11.2],[-21.6,12.4],[-21,13.6],[-20.6,11.5],[-20.2,13.4],[-19.5,12.2],[-18.9,12.0],[-18.1,11.0],[-17.5,13.0],[-16.9,13.2],[-16.5,10.7],[-16,13.8],[-15.4,13.4],[-14.8,12.6],[-14.4,12.2],[-14,11.3],[-13.4,10.7],[-12.8,13.2],[-12.3,11.8],[-11.9,12.4],[-11.3,12.8],[-10.7,11.5],[-10.3,12.0],[-9.9,10.6],[-9.3,12.6],[-8.6,12.2],[-8.2,11.5],[-7.6,12.8],[-7.2,11.8],[-6.6,12.4],[-6.2,11.2],[-5.8,12.0],[-5.1,11.5],[-4.5,12.4],[-4.1,11.3],[-3.5,12.0],[-2.5,11.8],[-2.1,10.5],[-1.6,11.5],[-1,11.0],[0,12.4],[1,11.5],[2.1,11.2],[3.1,11.5],[4.1,12.0],[5.1,11.0],[6.2,11.5],[7.2,11.2],[8.2,10.7],[9.3,12.0],[10.3,11.5],[11.3,11.0],[13.4,10.6],[15.4,11.0],[17.5,10.7],[18.5,10.6],[23.7,11.4],[42.2,10.2],[46.7,11.6]
];

// Regression lines (two ends of each fitted line)
const maHpiFit: Pt[] = [[-27.6, 6.9], [50.5, 17.77]];
const maHpiFit2: Pt[] = [[-33.1, 15.77], [27.1, 7.96]];
const rnaHpiFit: Pt[] = [[-58.2, 12.57], [52.4, 7.27]];
const rnaHpiFit2: Pt[] = [[-60, 14.05], [73.3, 7.2]];

// Tick labels
const ticksMaPcX = [-20, 0, 20, 40];
const ticksMaPcY = [-30, -20, -10, 0, 10, 20];
const ticksMaHpiY = [8, 10, 12, 14, 16, 18];
const ticksMa2X = [-30, -20, -10, 0, 10, 20];
const ticksMa2Y = [-20, -10, 0, 10, 20];
const ticksRnaX = [-40, -20, 0, 20, 40, 60];
const ticksRnaPcY = [-40, -20, 0, 20, 40];
const ticksRnaHpiY = [8, 10, 12, 14, 16];

const BLACK = '#1c1c1c';
const BROWN = '#b8893f';
const FONT = 'Lato, "Open Sans", sans-serif';

interface PanelSpec {
  box: [number, number, number, number];
  xr: [number, number];
  yr: [number, number];
  xt: number[];
  yt: number[];
  xTitle: string;
  yTitle: string;
  yTickX: number;
  yTitleX: number;
  xTickY: number;
  xTitleY: number;
  series: { pts: Pt[]; color: string }[];
  fit?: Pt[];
}

const panels: PanelSpec[] = [
  { box: [94.3, 62.3, 316, 279.3], xr: [-30.3, 50.3], yr: [-31.95, 23.86], xt: ticksMaPcX, yt: ticksMaPcY, xTitle: 'PC1', yTitle: 'PC2', yTickX: 71.7, yTitleX: 51.7, xTickY: 301.7, xTitleY: 321.7, series: [{ pts: maPcPrior, color: BLACK }] },
  { box: [370.7, 61.7, 593.3, 277.3], xr: [-30.3, 50.5], yr: [6.9, 20.32], xt: ticksMaPcX, yt: ticksMaHpiY, xTitle: 'PC1', yTitle: 'Estimated hpi', yTickX: 357, yTitleX: 335.5, xTickY: 301, xTitleY: 321.7, series: [{ pts: maHpiPrior, color: BLACK }], fit: maHpiFit },
  { box: [705, 60, 920.7, 280], xr: [-33.3, 26.9], yr: [-23.4, 27.7], xt: ticksMa2X, yt: ticksMa2Y, xTitle: 'PC1', yTitle: 'PC2', yTickX: 689, yTitleX: 668, xTickY: 301.7, xTitleY: 322.7, series: [{ pts: maPcPrior2, color: BLACK }, { pts: maPcPost, color: BROWN }] },
  { box: [983.3, 59.3, 1200, 280], xr: [-33.1, 27.6], yr: [6.98, 19.94], xt: ticksMa2X, yt: ticksMaHpiY, xTitle: 'PC1', yTitle: 'Estimated hpi', yTickX: 970, yTitleX: 949, xTickY: 301.7, xTitleY: 322.7, series: [{ pts: maHpiPrior2, color: BLACK }, { pts: maHpiPost, color: BROWN }], fit: maHpiFit2 },
  { box: [94.3, 351.7, 316, 573.3], xr: [-57.8, 66.7], yr: [-61.2, 58.3], xt: ticksRnaX, yt: ticksRnaPcY, xTitle: 'PC1', yTitle: 'PC2', yTickX: 72.5, yTitleX: 51.7, xTickY: 596, xTitleY: 615, series: [{ pts: rnaPcPrior, color: BLACK }] },
  { box: [371.7, 350, 593.3, 572.3], xr: [-58.2, 66.6], yr: [7.03, 17.17], xt: ticksRnaX, yt: ticksRnaHpiY, xTitle: 'PC1', yTitle: 'Estimated hpi', yTickX: 356, yTitleX: 337.5, xTickY: 596, xTitleY: 615, series: [{ pts: rnaHpiPrior, color: BLACK }], fit: rnaHpiFit },
  { box: [704, 355.7, 922.3, 573.3], xr: [-60.2, 74.8], yr: [-45.7, 52.4], xt: ticksRnaX, yt: ticksRnaPcY, xTitle: 'PC1', yTitle: 'PC2', yTickX: 688.5, yTitleX: 668, xTickY: 596, xTitleY: 615, series: [{ pts: rnaPcPrior2, color: BLACK }, { pts: rnaPcPost, color: BROWN }] },
  { box: [982.7, 353.3, 1200.7, 570], xr: [-60, 74.7], yr: [7.24, 16.75], xt: ticksRnaX, yt: ticksRnaHpiY, xTitle: 'PC1', yTitle: 'Estimated hpi', yTickX: 969, yTitleX: 948.5, xTickY: 596, xTitleY: 615, series: [{ pts: rnaHpiPrior2, color: BLACK }, { pts: rnaHpiPost, color: BROWN }], fit: rnaHpiFit2 },
];

function fmt(v: number) {
  return v < 0 ? '\u2212' + Math.abs(v) : String(v);
}

function Panel({ spec }: { spec: PanelSpec }) {
  const ref = useRef<HTMLCanvasElement>(null);
  const [l, t, r, b] = spec.box;
  const cl = Math.floor(l) - 78;
  const ct = Math.floor(t) - 8;
  const cw = Math.ceil(r) - cl + 10;
  const ch = Math.ceil(b) - ct + 62;

  useEffect(() => {
    const axesPlugin = {
      id: 'rAxes',
      beforeDatasetsDraw(chart: any) {
        const ctx: CanvasRenderingContext2D = chart.ctx;
        const { left, top, right, bottom } = chart.chartArea;
        const xs = chart.scales.x;
        const ys = chart.scales.y;
        ctx.save();
        ctx.lineWidth = 1;
        ctx.strokeStyle = '#b5b5b5';
        ctx.strokeRect(left, top, right - left, bottom - top);
        ctx.strokeStyle = '#555';
        ctx.beginPath();
        const xa = xs.getPixelForValue(spec.xt[0]);
        const xb = xs.getPixelForValue(spec.xt[spec.xt.length - 1]);
        ctx.moveTo(xa, bottom);
        ctx.lineTo(xb, bottom);
        spec.xt.forEach((v) => {
          const px = xs.getPixelForValue(v);
          ctx.moveTo(px, bottom);
          ctx.lineTo(px, bottom + 6);
        });
        const ya = ys.getPixelForValue(spec.yt[0]);
        const yb = ys.getPixelForValue(spec.yt[spec.yt.length - 1]);
        ctx.moveTo(left, ya);
        ctx.lineTo(left, yb);
        spec.yt.forEach((v) => {
          const py = ys.getPixelForValue(v);
          ctx.moveTo(left, py);
          ctx.lineTo(left - 6, py);
        });
        ctx.stroke();

        ctx.fillStyle = '#3a3a3a';
        ctx.font = `13px ${FONT}`;
        ctx.textAlign = 'center';
        ctx.textBaseline = 'middle';
        spec.xt.forEach((v) => {
          ctx.fillText(fmt(v), xs.getPixelForValue(v), spec.xTickY - ct);
        });
        spec.yt.forEach((v) => {
          ctx.save();
          ctx.translate(spec.yTickX - cl, ys.getPixelForValue(v));
          ctx.rotate(-Math.PI / 2);
          ctx.fillText(fmt(v), 0, 0);
          ctx.restore();
        });
        ctx.fillStyle = '#111';
        ctx.font = `19.5px ${FONT}`;
        ctx.fillText(spec.xTitle, (left + right) / 2, spec.xTitleY - ct);
        ctx.save();
        ctx.translate(spec.yTitleX - cl, (top + bottom) / 2);
        ctx.rotate(-Math.PI / 2);
        ctx.font = `${spec.yTitle.length > 4 ? 21 : 19.5}px ${FONT}`;
        ctx.fillText(spec.yTitle, 0, 0);
        ctx.restore();
        ctx.restore();
      },
    };

    const datasets: any[] = spec.series.map((s) => ({
      data: s.pts.map(([x, y]) => ({ x, y })),
      pointRadius: 3.6,
      pointBorderWidth: 1.1,
      pointBorderColor: s.color,
      pointBackgroundColor: 'rgba(0,0,0,0)',
      showLine: false,
    }));
    if (spec.fit) {
      datasets.push({
        data: spec.fit.map(([x, y]) => ({ x, y })),
        showLine: true,
        borderColor: '#2a2a2a',
        borderWidth: 1,
        pointRadius: 0,
        fill: false,
      });
    }

    const chart = new Chart(ref.current as HTMLCanvasElement, {
      type: 'scatter',
      data: { datasets },
      options: {
        responsive: false,
        animation: false,
        events: [],
        layout: { padding: { left: l - cl, top: t - ct, right: cl + cw - r, bottom: ct + ch - b } },
        plugins: { legend: { display: false }, tooltip: { enabled: false } },
        scales: {
          x: { type: 'linear', min: spec.xr[0], max: spec.xr[1], display: false },
          y: { type: 'linear', min: spec.yr[0], max: spec.yr[1], display: false },
        },
      },
      plugins: [axesPlugin],
    });
    return () => chart.destroy();
  }, []);

  return (
    <canvas
      ref={ref}
      width={cw}
      height={ch}
      style={{ position: 'absolute', left: cl, top: ct, width: cw, height: ch }}
    />
  );
}

function Label({ x, y, align, children, size = 13.5 }: { x: number; y: number; align: 'left' | 'right'; children: React.ReactNode; size?: number }) {
  return (
    <div
      style={{
        position: 'absolute',
        left: x,
        top: y,
        transform: align === 'right' ? 'translate(-100%, -50%)' : 'translate(0, -50%)',
        font: `${size}px ${FONT}`,
        color: '#333',
        whiteSpace: 'nowrap',
        lineHeight: 1.2,
      }}
    >
      {children}
    </div>
  );
}

export default function App() {
  return (
    <div style={{ position: 'fixed', left: 0, top: 0, width: 1219, height: 638, background: '#fff', overflow: 'hidden', fontFamily: FONT }}>
      {/* frame and sidebar */}
      <div style={{ position: 'absolute', left: 6, top: 5, width: 1210, height: 1.5, background: '#3c3c3c' }} />
      <div style={{ position: 'absolute', left: 1214, top: 5, width: 2, height: 633, background: '#4a4a4a' }} />
      <div style={{ position: 'absolute', left: 6, top: 5, width: 2, height: 633, background: '#8a8a8a' }} />
      <div style={{ position: 'absolute', left: 8, top: 6, width: 22, height: 317, background: '#f6f3c6' }} />
      <div style={{ position: 'absolute', left: 8, top: 323, width: 22, height: 315, background: '#c6eee8' }} />
      <div style={{ position: 'absolute', left: 19, top: 178, transform: 'translate(-50%, -50%) rotate(-90deg)', font: `22px ${FONT}`, color: '#222', whiteSpace: 'nowrap' }}>Microarray</div>
      <div style={{ position: 'absolute', left: 19, top: 425, transform: 'translate(-50%, -50%) rotate(-90deg)', font: `22px ${FONT}`, color: '#222', whiteSpace: 'nowrap' }}>RNA-seq</div>

      {/* titles */}
      <div style={{ position: 'absolute', left: 304, top: 30, transform: 'translate(-50%, -50%)', font: `28.5px ${FONT}`, color: '#111', whiteSpace: 'pre' }}>prior to ACT treatment</div>
      <div style={{ position: 'absolute', left: 930, top: 30, transform: 'translate(-50%, -50%)', font: `28.5px ${FONT}`, color: '#111', whiteSpace: 'pre' }}>
        prior to + <span style={{ color: BROWN }}>post</span>  ACT treatment
      </div>

      {panels.map((p, i) => (
        <Panel key={i} spec={p} />
      ))}

      <Label x={379} y={72} align="left">Spearman’s <i>rho</i> = 0.87</Label>
      <Label x={1192.7} y={73.3} align="right">Spearman’s <i>rho</i> = −0.78</Label>
      <Label x={585} y={360} align="right">Spearman’s <i>rho</i> = -0.85</Label>
      <Label x={1196.7} y={365} align="right">Spearman’s <i>rho</i> = −0.76</Label>
    </div>
  );
}
